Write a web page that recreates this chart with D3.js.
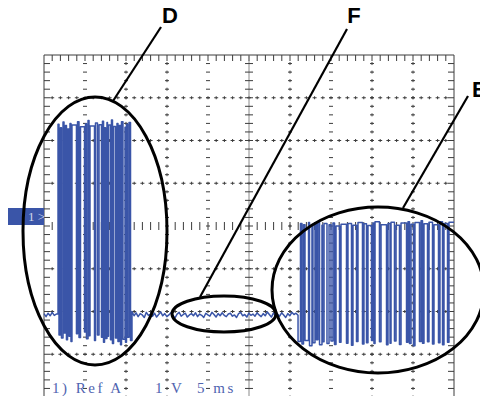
<!DOCTYPE html>
<html>
<head>
<meta charset="utf-8">
<script src="https://cdn.jsdelivr.net/npm/d3@7"></script>
<style>
  body { margin: 0; background: #fff; }
  svg { display: block; }
</style>
</head>
<body>
<div id="chart"></div>
<script>
// scope settings: 1 V/div, 5 ms/div, 10 x 8 divisions
const timeDomain = [0, 50]   // ms
const voltDomain = [-4, 4]   // V
const sampleStep = 0.25      // ms between baseline samples

// quiet line before burst D (t = 0 .. 1.71 ms)
const baseStart = [-2.05, -2.12, -2.04, -2.10, -2.02, -2.09, -2.06]
const dStart = 1.71

// burst D: low-going pulses (ms) with their low level and the high level before each
const dPulseStart = [1.83, 2.13, 2.44, 2.74, 3.05, 3.29, 3.96, 4.27, 4.94, 5.18, 5.49, 6.16, 6.52,
  7.01, 7.26, 7.50, 7.74, 8.11, 8.35, 8.72, 9.02, 9.33, 9.63, 9.94, 10.18, 10.55]
const dPulseEnd = [2.01, 2.32, 2.62, 2.87, 3.17, 3.41, 4.09, 4.45, 5.06, 5.37, 5.61, 6.28, 6.71,
  7.13, 7.38, 7.68, 7.87, 8.23, 8.48, 8.90, 9.15, 9.45, 9.88, 10.06, 10.37, 10.73]
const dLow = [-2.55, -2.62, -2.50, -2.66, -2.58, -2.70, -2.52, -2.61, -2.48, -2.64, -2.57, -2.68, -2.55,
  -2.60, -2.72, -2.63, -2.58, -2.66, -2.75, -2.62, -2.70, -2.78, -2.65, -2.72, -2.60, -2.68]
const dHigh = [2.38, 2.30, 2.43, 2.35, 2.27, 2.40, 2.36, 2.44, 2.32, 2.39, 2.47, 2.34, 2.41,
  2.37, 2.45, 2.30, 2.42, 2.36, 2.48, 2.33, 2.40, 2.35, 2.44, 2.31, 2.38, 2.42]

// quiet line F between bursts (starts at end of D, one sample every 0.25 ms)
const baseMid = [
  -2.00, -2.10, -2.03, -2.12, -2.05, -2.08, -2.14, -2.02, -2.09, -2.06,
  -2.11, -2.04, -2.13, -2.07, -2.01, -2.10, -2.05, -2.12, -2.08, -2.03,
  -2.09, -2.15, -2.06, -2.02, -2.11, -2.07, -2.04, -2.13, -2.08, -2.05,
  -2.10, -2.03, -2.12, -2.06, -2.09, -2.14, -2.04, -2.08, -2.11, -2.02,
  -2.07, -2.13, -2.05, -2.10, -2.03, -2.09, -2.12, -2.06, -2.04, -2.11,
  -2.08, -2.14, -2.05, -2.02, -2.10, -2.07, -2.13, -2.04, -2.09, -2.06,
  -2.11, -2.03, -2.08, -2.12, -2.05, -2.10, -2.01, -2.07, -2.13, -2.04,
  -2.09, -2.06, -2.11, -2.03, -2.08, -2.14, -2.05, -2.10, -2.02, -2.07,
  -2.04, -2.09]

// burst E: low-going pulses, low level, and the high level after each
const ePulseStart = [30.98, 31.46, 31.83, 32.38, 32.80, 33.23, 33.60, 33.96, 34.51, 35.00, 35.43, 36.04,
  36.89, 37.50, 38.11, 38.84, 39.33, 39.94, 40.24, 40.91, 41.77, 42.20, 42.74, 43.35, 44.21, 44.57,
  45.06, 45.79, 46.16, 46.77, 47.38, 48.11, 48.60, 49.21]
const ePulseEnd = [31.28, 31.65, 32.26, 32.68, 33.05, 33.41, 33.90, 34.15, 34.76, 35.24, 35.61, 36.22,
  37.07, 37.68, 38.29, 39.02, 39.51, 40.12, 40.37, 41.10, 41.95, 42.32, 42.93, 43.54, 44.39, 44.76,
  45.24, 45.98, 46.34, 46.95, 47.56, 48.29, 48.78, 49.39]
const eLow = [-2.70, -2.76, -2.68, -2.80, -2.73, -2.66, -2.78, -2.71, -2.75, -2.69, -2.77, -2.72,
  -2.74, -2.79, -2.70, -2.76, -2.73, -2.68, -2.75, -2.71, -2.78, -2.74, -2.69, -2.77, -2.72, -2.75,
  -2.80, -2.70, -2.74, -2.71, -2.76, -2.73, -2.78, -2.72]
const eHigh = [0.06, 0.03, 0.08, 0.00, 0.05, 0.09, 0.02, 0.06, 0.03, 0.07, 0.00, 0.04,
  0.06, 0.02, 0.08, 0.05, 0.01, 0.07, 0.10, 0.03, 0.06, 0.09, 0.02, 0.07, 0.10, 0.04,
  0.08, 0.12, 0.05, 0.09, 0.03, 0.10, 0.06, 0.09]

// grid styles per vertical division line (ms)
const crossCols = [10, 15, 30, 40, 45]
const dashCols = [5, 20, 35]
const gridRows = [-3, -2, -1, 1, 2, 3]

const annotations = [
  { label: 'D', cx: 95, cy: 231, rx: 72, ry: 134, from: [161, 27], to: [113, 101], tx: 170, ty: 23, anchor: 'middle' },
  { label: 'F', cx: 224, cy: 314, rx: 52, ry: 18, from: [347, 29], to: [200, 297], tx: 354, ty: 23, anchor: 'middle' },
  { label: 'E', cx: 378, cy: 290, rx: 106, ry: 83, from: [468, 96], to: [403, 208], tx: 472, ty: 97, anchor: 'start' },
]
const footer = [['1) Ref A', 52], ['1 V', 155], ['5 ms', 197]]

const width = 480
const height = 396
const svg = d3.select('#chart').append('svg')
  .attr('width', width)
  .attr('height', height)

const x = d3.scaleLinear().domain(timeDomain).range([44, 454])
const y = d3.scaleLinear().domain(voltDomain).range([397, 55])

const minorT = d3.range(0, 51).map(i => i * 1)
const minorV = d3.range(0, 41).map(i => -4 + i * 0.2)

// grid
const grid = svg.append('g').attr('stroke', '#3c3c3c').attr('stroke-width', 1).attr('fill', 'none')
const seg = (x1, y1, x2, y2) => grid.append('line').attr('x1', x1).attr('y1', y1).attr('x2', x2).attr('y2', y2)

// frame
seg(x(0), y(4), x(0), height)
seg(x(0), y(4), x(50), y(4))
seg(x(50), y(4), x(50), height)

minorT.forEach(t => {
  if (t > 0 && t < 50) seg(x(t), y(4), x(t), y(4) + 6)
})
minorV.forEach(v => {
  if (v < 3.99) {
    seg(x(0), y(v), x(0) + 6, y(v))
    seg(x(50) - 6, y(v), x(50), y(v))
  }
})

// horizontal division lines: small crosses
gridRows.forEach(r => {
  minorT.forEach(t => {
    if (t <= 0 || t >= 50) return
    seg(x(t) - 2, y(r), x(t) + 2, y(r))
    seg(x(t), y(r) - 1.5, x(t), y(r) + 1.5)
  })
})

// vertical division lines
crossCols.forEach(c => {
  minorV.forEach(v => {
    if (v >= 3.99) return
    seg(x(c) - 2, y(v), x(c) + 2, y(v))
    seg(x(c), y(v) - 1.5, x(c), y(v) + 1.5)
  })
})
dashCols.forEach(c => {
  minorV.forEach(v => {
    if (v >= 3.99) return
    seg(x(c) - 2, y(v), x(c) + 2, y(v))
  })
})

// centre axes
seg(x(25), y(4), x(25), height).attr('stroke', '#8a8a8a')
minorV.forEach(v => {
  if (v < 3.99) seg(x(25) - 4, y(v), x(25) + 4, y(v))
})
minorT.forEach(t => {
  if (t > 0 && t < 50) seg(x(t), y(0) - 4, x(t), y(0) + 4)
})

// trace
const pts = []
baseStart.forEach((v, i) => pts.push([i * sampleStep, v]))
pts.push([dStart, baseStart[baseStart.length - 1]])
dPulseStart.forEach((s, i) => {
  pts.push([i === 0 ? dStart : dPulseEnd[i - 1], dHigh[i]])
  pts.push([s, dHigh[i]])
  pts.push([s, dLow[i]])
  pts.push([dPulseEnd[i], dLow[i]])
})
const dEnd = dPulseEnd[dPulseEnd.length - 1]
baseMid.forEach((v, i) => pts.push([dEnd + i * sampleStep, v]))
ePulseStart.forEach((s, i) => {
  pts.push([s, i === 0 ? baseMid[baseMid.length - 1] : eHigh[i - 1]])
  pts.push([s, eLow[i]])
  pts.push([ePulseEnd[i], eLow[i]])
  pts.push([ePulseEnd[i], eHigh[i]])
})
pts.push([timeDomain[1], eHigh[eHigh.length - 1]])

const line = d3.line().x(d => x(d[0])).y(d => y(d[1]))
svg.append('path')
  .datum(pts)
  .attr('d', line)
  .attr('fill', 'none')
  .attr('stroke', '#3a55a8')
  .attr('stroke-width', 1.5)
  .attr('stroke-linejoin', 'round')

// channel marker
svg.append('rect')
  .attr('x', 8).attr('y', 208).attr('width', 36).attr('height', 17)
  .attr('fill', '#3a55a8')
svg.append('text')
  .attr('x', 28).attr('y', 221)
  .attr('font-family', '"Liberation Serif", serif')
  .attr('font-size', 13)
  .attr('fill', '#cfd5ea')
  .text('1 >')

// footer readout
svg.append('g').selectAll('text')
  .data(footer)
  .join('text')
  .attr('x', d => d[1])
  .attr('y', 393)
  .attr('font-family', '"Liberation Serif", serif')
  .attr('font-size', 15)
  .attr('letter-spacing', 2.5)
  .attr('fill', '#4f64b0')
  .text(d => d[0])

// annotations
const ann = svg.append('g')
ann.selectAll('ellipse')
  .data(annotations)
  .join('ellipse')
  .attr('cx', d => d.cx).attr('cy', d => d.cy)
  .attr('rx', d => d.rx).attr('ry', d => d.ry)
  .attr('fill', 'none')
  .attr('stroke', '#000')
  .attr('stroke-width', 3)
ann.selectAll('line')
  .data(annotations)
  .join('line')
  .attr('x1', d => d.from[0]).attr('y1', d => d.from[1])
  .attr('x2', d => d.to[0]).attr('y2', d => d.to[1])
  .attr('stroke', '#000')
  .attr('stroke-width', 2.2)
ann.selectAll('text')
  .data(annotations)
  .join('text')
  .attr('x', d => d.tx).attr('y', d => d.ty)
  .attr('text-anchor', d => d.anchor)
  .attr('font-family', '"Liberation Sans", Arial, sans-serif')
  .attr('font-weight', 'bold')
  .attr('font-size', 22)
  .attr('fill', '#000')
  .text(d => d.label)
</script>
</body>
</html>
